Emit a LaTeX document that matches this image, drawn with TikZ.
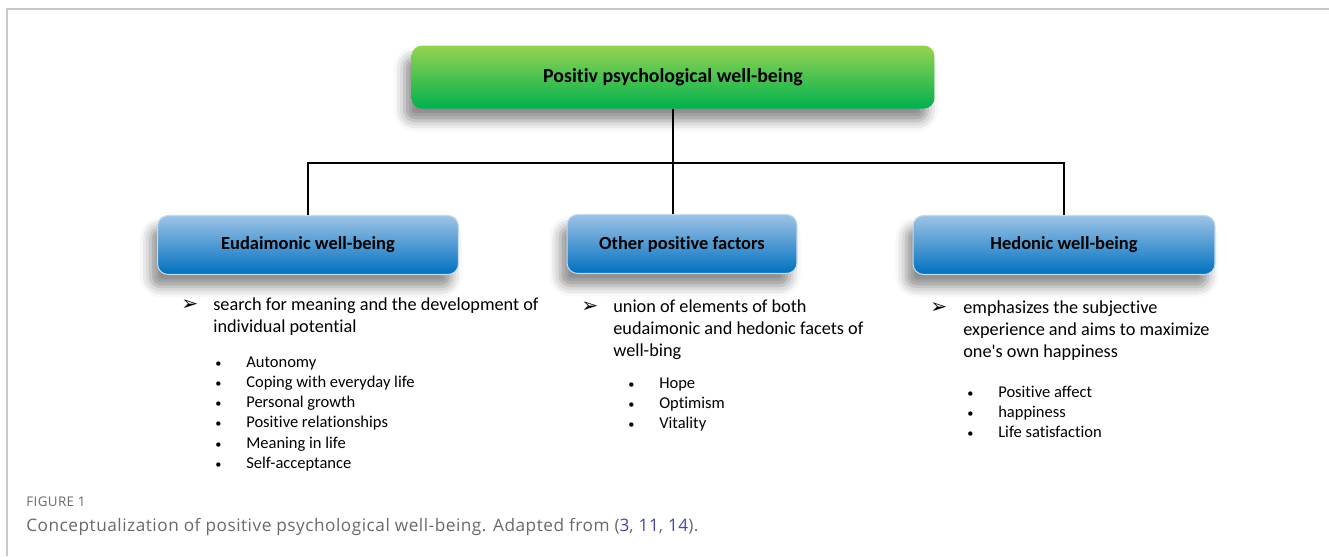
\documentclass[tikz,border=0pt]{standalone}
\usepackage{fontspec}
\setmainfont{Carlito}[Ligatures={NoCommon}]
\newfontfamily\capfont[LetterSpace=3]{Open Sans}
\newfontfamily\symfont{DejaVu Sans}
\usetikzlibrary{shadows.blur}
\definecolor{topgreen}{RGB}{150, 212, 80}
\definecolor{botgreen}{RGB}{0, 176, 80}
\definecolor{topblue}{RGB}{157, 195, 230}
\definecolor{botblue}{RGB}{0, 112, 192}
\definecolor{framegray}{RGB}{200, 200, 200}
\definecolor{capgray}{RGB}{105, 105, 105}
\definecolor{refblue}{RGB}{70, 70, 170}

\newcommand{\pointer}{{\symfont\fontsize{11.5}{11.5}\selectfont ➢}}
\newcommand{\smalldot}{{\fontsize{7}{7}\selectfont\textbullet}}
\newcommand{\desclines}[1]{\begin{tabular}[t]{@{}l@{}}#1\end{tabular}}
\newcommand{\bulletlines}[1]{\begin{tabular}[t]{@{}p{17.6pt}@{}l@{}}#1\end{tabular}}

\begin{document}
\begin{tikzpicture}[x=0.02cm, y=-0.02cm,
  hbox/.style={rounded corners=6pt, inner sep=0pt, font=\fontsize{10.5}{12}\selectfont\bfseries,
    blur shadow={shadow xshift=-4pt, shadow yshift=-7pt, shadow blur radius=6pt, shadow opacity=45}},
  greenbox/.style={hbox, top color=topgreen, bottom color=botgreen},
  bluebox/.style={hbox, top color=topblue, bottom color=botblue, draw=topblue!60!white, line width=0.6pt},
  desc/.style={anchor=base west, inner sep=0pt, font=\fontsize{10.4}{12.8}\selectfont},
  items/.style={anchor=base west, inner sep=0pt, font=\fontsize{9.4}{11.57}\selectfont},
  conn/.style={line width=1.1pt}
]
  \useasboundingbox (0,0) rectangle (1329,556);
  \draw[framegray, line width=1pt] (7,556) -- (7,9) -- (1329,9);

  % boxes
  \node[greenbox, minimum width=10.46cm, minimum height=1.26cm, font=\fontsize{11.3}{13}\selectfont\bfseries] (top) at (673,77) {Positiv psychological well-being};
  \node[bluebox, minimum width=6.02cm, minimum height=1.18cm] (eud) at (308,245) {Eudaimonic well-being};
  \node[bluebox, minimum width=4.6cm, minimum height=1.18cm] (other) at (682,244) {Other positive factors};
  \node[bluebox, minimum width=6.04cm, minimum height=1.18cm] (hed) at (1064,245) {Hedonic well-being};

  % tree lines
  \coordinate (bar) at (673,163);
  \draw[conn] (top.south) -- (top.south |- other.north);
  \draw[conn] (eud.north) -- (eud.north |- bar) -- (hed.north |- bar) -- (hed.north);

  % eudaimonic
  \node[desc] (eudarrow) at (181,310) {\pointer};
  \node[desc] (euddesc) at (213,310) {\desclines{search for meaning and the development of\\individual potential}};
  \node[items] (euditems) at (215,367) {\bulletlines{\smalldot & Autonomy\\ \smalldot & Coping with everyday life\\ \smalldot & Personal growth\\ \smalldot & Positive relationships\\ \smalldot & Meaning in life\\ \smalldot & Self-acceptance}};

  % other
  \node[desc] (otherarrow) at (581,312) {\pointer};
  \node[desc] (otherdesc) at (613,312) {\desclines{union of elements of both\\eudaimonic and hedonic facets of\\well-bing}};
  \node[items] (otheritems) at (628,388) {\bulletlines{\smalldot & Hope\\ \smalldot & Optimism\\ \smalldot & Vitality}};

  % hedonic
  \node[desc] (hedarrow) at (930,313) {\pointer};
  \node[desc] (heddesc) at (963,313) {\desclines{emphasizes the subjective\\experience and aims to maximize\\one\textquotesingle s own happiness}};
  \node[items] (heditems) at (967,397) {\bulletlines{\smalldot & Positive affect\\ \smalldot & happiness\\ \smalldot & Life satisfaction}};

  % caption
  \node[anchor=base west, inner sep=0pt, text=capgray, font=\capfont\fontsize{7.6}{9}\selectfont] (figlabel) at (26,506) {FIGURE 1};
  \node[anchor=base west, inner sep=0pt, text=capgray, font=\capfont\fontsize{9.8}{11}\selectfont] (figcaption) at (26,531)
    {Conceptualization of positive psychological well-being. Adapted from (\textcolor{refblue}{3}, \textcolor{refblue}{11}, \textcolor{refblue}{14}).};
\end{tikzpicture}
\end{document}
